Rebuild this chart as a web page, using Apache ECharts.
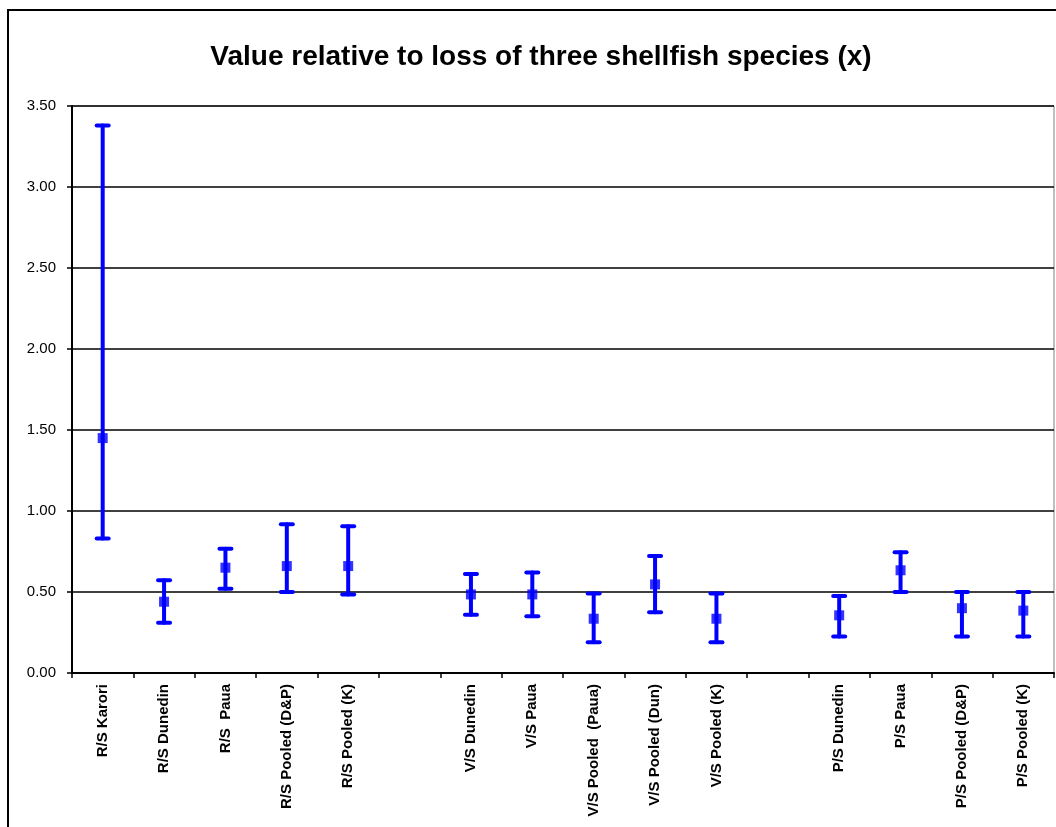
<!DOCTYPE html>
<html>
<head>
<meta charset="utf-8">
<script src="https://cdn.jsdelivr.net/npm/echarts@6/dist/echarts.min.js"></script>
<style>
html,body{margin:0;padding:0;background:#fff;}
#chart{width:1056px;height:827px;}
</style>
</head>
<body>
<div id="chart"></div>
<script>
var categories = ['R/S Karori','R/S Dunedin','R/S  Paua','R/S Pooled (D&P)','R/S Pooled (K)','',
  'V/S Dunedin','V/S Paua','V/S Pooled  (Paua)','V/S Pooled (Dun)','V/S Pooled (K)','',
  'P/S Dunedin','P/S Paua','P/S Pooled (D&P)','P/S Pooled (K)'];
var means  = [1.45, 0.44, 0.65, 0.66, 0.66, null, 0.485, 0.485, 0.335, 0.547, 0.335, null, 0.356, 0.634, 0.40, 0.385];
var lowers = [0.83, 0.31, 0.52, 0.50, 0.485, null, 0.36, 0.35, 0.19, 0.375, 0.19, null, 0.225, 0.50, 0.225, 0.225];
var uppers = [3.38, 0.572, 0.767, 0.918, 0.906, null, 0.611, 0.621, 0.49, 0.722, 0.49, null, 0.475, 0.745, 0.50, 0.50];
var yTicks = [0, 0.5, 1.0, 1.5, 2.0, 2.5, 3.0, 3.5];

var errData = [];
for (var i = 0; i < categories.length; i++) {
  if (means[i] !== null) errData.push([i, lowers[i], uppers[i]]);
}
var pointData = [];
for (var j = 0; j < categories.length; j++) {
  if (means[j] !== null) pointData.push([j, means[j]]);
}

var chart = echarts.init(document.getElementById('chart'), null, {renderer: 'canvas'});
var option = {
  backgroundColor: '#fff',
  animation: false,
  title: {
    text: 'Value relative to loss of three shellfish species (x)',
    left: 536, top: 38, textAlign: 'center',
    textStyle: {fontFamily: 'Liberation Sans, Arial, sans-serif', fontWeight: 'bold', fontSize: 28, color: '#000'}
  },
  graphic: [{
    type: 'rect', shape: {x: 8, y: 10, width: 1100, height: 900},
    style: {fill: 'none', stroke: '#000', lineWidth: 2}, silent: true
  }],
  grid: {left: 72, top: 106, right: 2, bottom: 154, show: true, borderColor: '#808080', borderWidth: 1, backgroundColor: 'transparent'},
  xAxis: {
    type: 'category', data: categories, boundaryGap: true,
    axisLine: {lineStyle: {color: '#000', width: 2}},
    axisTick: {show: true, length: 5, lineStyle: {color: '#000', width: 1.5}, interval: 0},
    axisLabel: {interval: 0, rotate: 90, fontFamily: 'Liberation Sans, Arial, sans-serif', fontWeight: 'bold', fontSize: 15, color: '#000', margin: 11},
    splitLine: {show: false}
  },
  yAxis: {
    type: 'value', min: yTicks[0], max: yTicks[yTicks.length - 1], interval: yTicks[1] - yTicks[0],
    axisLine: {show: true, lineStyle: {color: '#000', width: 2}},
    axisTick: {show: true, length: 5, lineStyle: {color: '#000', width: 1.5}},
    axisLabel: {fontFamily: 'Liberation Sans, Arial, sans-serif', fontSize: 15, color: '#000', margin: 16,
      formatter: function (v) { return v.toFixed(2); }},
    splitLine: {show: true, lineStyle: {color: '#000', width: 1.5}}
  },
  series: [{
    type: 'custom',
    data: errData,
    encode: {x: 0, y: [1, 2]},
    z: 3,
    renderItem: function (params, api) {
      var x = api.value(0);
      var lo = api.coord([x, api.value(1)]);
      var hi = api.coord([x, api.value(2)]);
      var cw = 6;
      var st = {stroke: '#0000FF', lineWidth: 4, lineCap: 'round'};
      return {type: 'group', children: [
        {type: 'line', shape: {x1: lo[0], y1: lo[1], x2: hi[0], y2: hi[1]}, style: st},
        {type: 'line', shape: {x1: lo[0] - cw, y1: lo[1], x2: lo[0] + cw, y2: lo[1]}, style: st},
        {type: 'line', shape: {x1: hi[0] - cw, y1: hi[1], x2: hi[0] + cw, y2: hi[1]}, style: st}
      ]};
    }
  }, {
    type: 'scatter',
    data: pointData,
    symbol: 'rect', symbolSize: 10,
    itemStyle: {color: '#0000FF'},
    z: 4
  }]
};
chart.setOption(option);
</script>
</body>
</html>
